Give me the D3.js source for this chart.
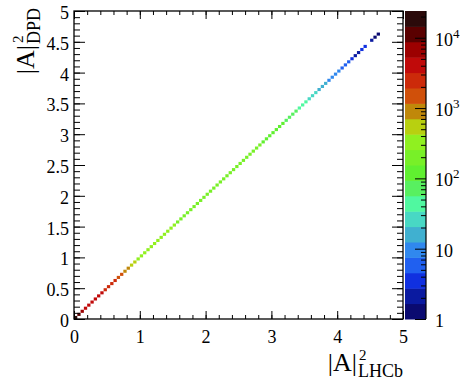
<!DOCTYPE html>
<html>
<head>
<meta charset="utf-8">
<script src="https://cdn.jsdelivr.net/npm/d3@7"></script>
<style>
  body { margin: 0; background: #fff; }
  svg text { font-family: "Liberation Serif", "Times New Roman", serif !important; fill: #000; }
</style>
</head>
<body>
<div id="chart"></div>
<script>
// Histogram binning: 100 x 100 bins on [0,5] x [0,5]; only the diagonal is filled
const binWidth = 0.05;
// counts in diagonal bins (bin i covers [i*0.05, (i+1)*0.05] on both axes)
const diagCounts = [
  24000, 11500, 6000, 5000, 4700, 4400, 4100, 3800, 3500, 3000,
  2700, 2450, 2200, 1900, 1500, 1000, 760, 620, 500, 420,
  400, 380, 360, 345, 330, 315, 300, 290, 280, 270,
  262, 255, 248, 240, 233, 227, 221, 215, 210, 205,
  200, 196, 192, 188, 185, 182, 179, 176, 173, 170,
  167, 164, 161, 158, 157, 156, 155, 154, 152, 146,
  138, 128, 116, 103, 90, 79, 69, 60, 52, 45,
  39, 33, 28, 24, 20, 17, 14, 12, 10, 9,
  8, 7, 6, 5, 4, 2, 2, 3, 3, 0,
  2, 1, 1
];

const xTickValues = [0, 1, 2, 3, 4, 5];
const yTickValues = [0, 0.5, 1, 1.5, 2, 2.5, 3, 3.5, 4, 4.5, 5];
const zTickExponents = [0, 1, 2, 3, 4];

// colour palette, 20 contours, low -> high
const palette = [
  '#0a0a70', '#0a1aa0', '#1030e0', '#2060f0', '#3088ee',
  '#40b0d0', '#48d8c4', '#50f8a0', '#58f060', '#60f030',
  '#78f028', '#90f020', '#b8d010', '#c0880a', '#d0500a',
  '#cc2a0a', '#c00a0a', '#9c0000', '#5a0000', '#2b0a0a'
];

// Config
const width = 462;
const height = 387;
const frame = { left: 74, right: 403, top: 11, bottom: 319 };
const pal = { left: 405, right: 426 };
const serif = '"Liberation Serif", "Times New Roman", serif';

const svg = d3.select('#chart').append('svg')
  .attr('width', width)
  .attr('height', height)
  .attr('font-family', serif);

const x = d3.scaleLinear().domain([0, 5]).range([frame.left, frame.right]);
const y = d3.scaleLinear().domain([0, 5]).range([frame.bottom, frame.top]);

const zMax = d3.max(diagCounts);
const z = d3.scaleLog().domain([1, zMax]).range([frame.bottom, frame.top]);
const color = d3.scaleQuantize()
  .domain([0, Math.log10(zMax)])
  .range(palette);

// Cells
const cells = diagCounts
  .map((c, i) => ({ lo: i * binWidth, hi: (i + 1) * binWidth, count: c }))
  .filter(d => d.count > 0);

svg.append('g')
  .selectAll('rect')
  .data(cells)
  .join('rect')
  .attr('x', d => x(d.lo))
  .attr('y', d => y(d.hi))
  .attr('width', d => x(d.hi) - x(d.lo))
  .attr('height', d => y(d.lo) - y(d.hi))
  .attr('fill', d => color(Math.log10(d.count)));

// minor tick positions
const xMinor = d3.range(0, 5.0001, 0.2);
const yMinor = d3.range(0, 5.0001, 0.1);

const axisGroup = (transform, axis) => {
  const g = svg.append('g').attr('transform', transform).call(axis)
    .attr('font-family', serif);
  g.select('.domain').remove();
  g.selectAll('.tick line').attr('stroke', '#000').attr('stroke-width', 1);
  g.selectAll('.tick text').attr('font-family', serif).attr('font-size', 18);
  return g;
};

// Bottom axis
const xAx = axisGroup(`translate(0,${frame.bottom})`,
  d3.axisBottom(x).tickValues(xTickValues).tickSizeInner(-8).tickSizeOuter(0)
    .tickPadding(11).tickFormat(d => d));
xAx.selectAll('.tick text').attr('dy', '0.71em');
axisGroup(`translate(0,${frame.bottom})`,
  d3.axisBottom(x).tickValues(xMinor).tickSizeInner(-4).tickSizeOuter(0).tickFormat(''));
// Top mirror ticks
axisGroup(`translate(0,${frame.top})`,
  d3.axisTop(x).tickValues(xTickValues).tickSizeInner(-8).tickSizeOuter(0).tickFormat(''));
axisGroup(`translate(0,${frame.top})`,
  d3.axisTop(x).tickValues(xMinor).tickSizeInner(-4).tickSizeOuter(0).tickFormat(''));

// Left axis
const yAx = axisGroup(`translate(${frame.left},0)`,
  d3.axisLeft(y).tickValues(yTickValues).tickSizeInner(-11).tickSizeOuter(0)
    .tickPadding(5).tickFormat(d => String(d)));
yAx.selectAll('.tick text').attr('dy', '0.42em');
axisGroup(`translate(${frame.left},0)`,
  d3.axisLeft(y).tickValues(yMinor).tickSizeInner(-6).tickSizeOuter(0).tickFormat(''));
// Right mirror ticks
axisGroup(`translate(${frame.right},0)`,
  d3.axisRight(y).tickValues(yTickValues).tickSizeInner(-11).tickSizeOuter(0).tickFormat(''));
axisGroup(`translate(${frame.right},0)`,
  d3.axisRight(y).tickValues(yMinor).tickSizeInner(-6).tickSizeOuter(0).tickFormat(''));

// Frame
svg.append('rect')
  .attr('x', frame.left)
  .attr('y', frame.top)
  .attr('width', frame.right - frame.left)
  .attr('height', frame.bottom - frame.top)
  .attr('fill', 'none')
  .attr('stroke', '#000')
  .attr('stroke-width', 1.3);

// Palette
const nCol = palette.length;
const step = Math.log10(zMax) / nCol;
svg.append('g')
  .selectAll('rect')
  .data(palette)
  .join('rect')
  .attr('x', pal.left)
  .attr('width', pal.right - pal.left)
  .attr('y', (c, i) => z(Math.pow(10, (i + 1) * step)))
  .attr('height', (c, i) => z(Math.pow(10, i * step)) - z(Math.pow(10, (i + 1) * step)) + 0.5)
  .attr('fill', c => c);

svg.append('line')
  .attr('x1', pal.right).attr('x2', pal.right)
  .attr('y1', frame.top).attr('y2', frame.bottom)
  .attr('stroke', '#000').attr('stroke-width', 1.2);

const zMajor = zTickExponents.map(e => Math.pow(10, e));
const zMinor = [];
zTickExponents.forEach(e => {
  for (let m = 2; m <= 9; m++) {
    const v = m * Math.pow(10, e);
    if (v <= zMax) zMinor.push(v);
  }
});
axisGroup(`translate(${pal.right},0)`,
  d3.axisRight(z).tickValues(zMajor).tickSizeInner(-11).tickSizeOuter(0).tickFormat(''));
axisGroup(`translate(${pal.right},0)`,
  d3.axisRight(z).tickValues(zMinor).tickSizeInner(-5).tickSizeOuter(0).tickFormat(''));

// Palette labels
const zLab = svg.append('g')
  .selectAll('text')
  .data(zTickExponents)
  .join('text')
  .attr('x', pal.right + 9)
  .attr('y', e => z(Math.pow(10, e)) + 8)
  .attr('font-size', 18);
zLab.append('tspan').text(e => e === 0 ? '1' : '10');
zLab.filter(e => e >= 2).append('tspan')
  .attr('font-size', 13)
  .attr('dy', -8)
  .text(e => e);

// Axis titles: |A| with stacked superscript 2 and subscript, right-aligned at 0
const axisTitle = (g, sub) => {
  const s = g.append('text')
    .attr('text-anchor', 'end')
    .attr('x', 0).attr('y', 6)
    .attr('font-size', 18)
    .text(sub);
  const w = s.node().getComputedTextLength();
  g.append('text')
    .attr('text-anchor', 'start')
    .attr('x', -w + 1).attr('y', -11)
    .attr('font-size', 15)
    .text('2');
  g.append('text')
    .attr('text-anchor', 'end')
    .attr('x', -w - 1).attr('y', 0)
    .attr('font-size', 26)
    .text('|A|');
};

axisTitle(svg.append('g').attr('transform', `translate(${frame.right},371)`), 'LHCb');
axisTitle(svg.append('g').attr('transform', 'translate(34,8) rotate(-90)'), 'DPD');
</script>
</body>
</html>
